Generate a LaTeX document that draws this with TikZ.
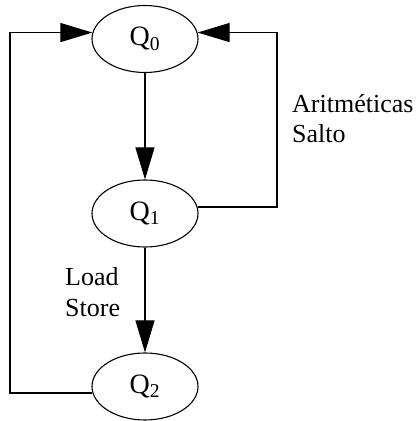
\documentclass[tikz,border=0pt]{standalone}
\usepackage{fontspec}
\setmainfont{Liberation Serif}
\usetikzlibrary{shapes.geometric,arrows.meta}
\begin{document}
\begin{tikzpicture}[x=1pt,y=1pt,
  state/.style={draw, ellipse, line width=1.1pt, minimum width=106pt, minimum height=67pt, inner sep=0pt, font=\fontsize{28}{30}\selectfont},
  lbl/.style={align=left, inner sep=0pt, font=\fontsize{26}{31}\selectfont},
  flow/.style={line width=1.1pt, -{Triangle[length=32pt, width=19pt]}}]
\useasboundingbox (0,0) rectangle (416,421);
\node[state] (q0) at (145,382) {Q\textsubscript{0}};
\node[state] (q1) at (145,207.5) {Q\textsubscript{1}};
\node[state] (q2) at (145,34.5) {Q\textsubscript{2}};
\coordinate (lft) at (10,0);
\coordinate (rgt) at (277,0);
\node[lbl, anchor=base west] (arit) at (292,308) {Aritméticas};
\node[lbl, anchor=base west] (salto) at (292,278) {Salto};
\node[lbl, anchor=base west] (load) at (65,135) {Load};
\node[lbl, anchor=base west] (store) at (65,104) {Store};
\draw[flow] (q0) -- (q1);
\draw[flow] (q1) -- (q2);
\draw[flow] (q1.7) -- (q1.7 -| rgt) -- (q0.7 -| rgt) -- (q0.7);
\draw[flow] (q2.187) -- (q2.187 -| lft) -- (q0.173 -| lft) -- (q0.173);
\end{tikzpicture}
\end{document}
